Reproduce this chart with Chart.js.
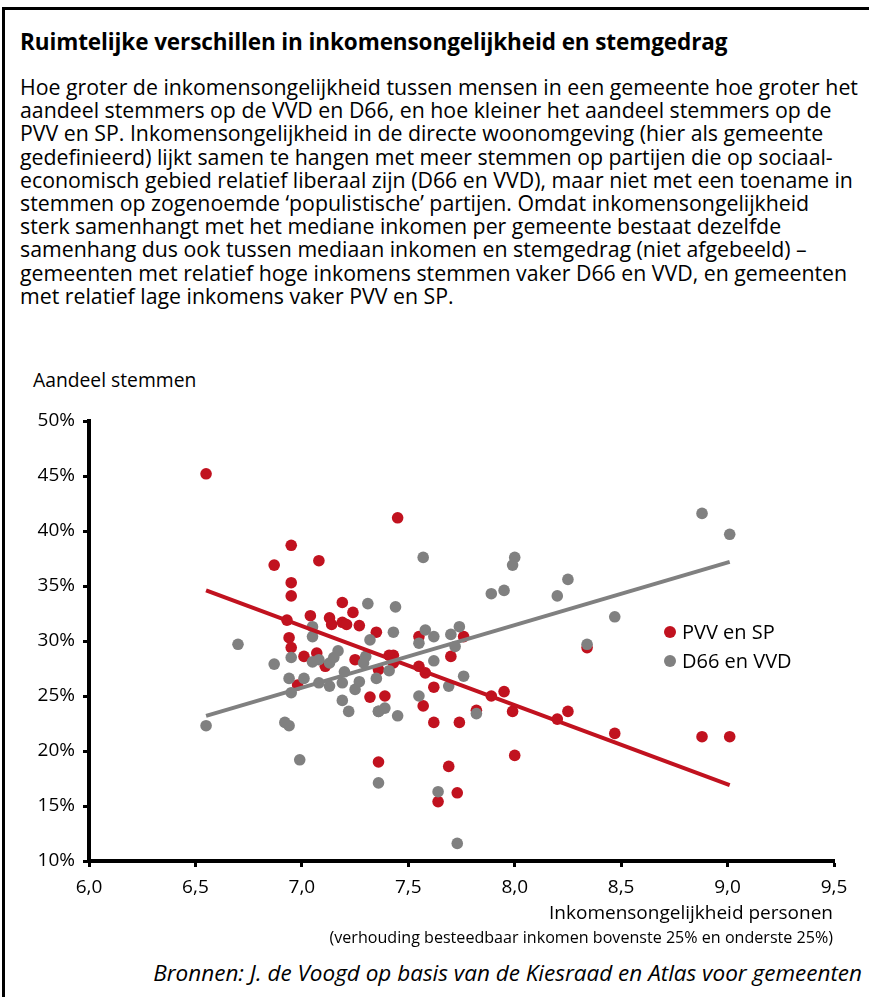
<!DOCTYPE html>
<html>
<head>
<meta charset="utf-8">
<script src="https://cdn.jsdelivr.net/npm/chart.js@4/dist/chart.umd.min.js"></script>
<style>
  body { margin: 0; background: #fff; font-family: "Open Sans", sans-serif; color: #000; }
  #page { position: relative; width: 869px; height: 997px; overflow: hidden; }
  .frame-top { position: absolute; left: 2px; top: 7px; width: 867px; height: 3px; background: #000; }
  .frame-left { position: absolute; left: 2px; top: 7px; width: 3px; height: 990px; background: #000; }
  .t { position: absolute; white-space: nowrap; }
  #title { left: 20px; top: 27px; font-size: 22.5px; line-height: 30px; font-weight: bold; letter-spacing: -0.1px; }
  #intro { left: 20px; top: 75px; font-size: 21.3px; line-height: 23.2px; }
  #ylab { left: 33px; top: 367px; font-size: 19.3px; line-height: 26px; }
  #xlab { right: 36px; top: 899px; font-size: 19px; line-height: 26px; }
  #xsub { right: 36px; top: 926px; font-size: 16.1px; line-height: 22px; }
  #src { right: 7px; top: 958px; font-size: 22.5px; line-height: 30px; font-style: italic; }
  #chartbox { position: absolute; left: 0; top: 400px; width: 869px; height: 510px; }
  .leg { position: absolute; left: 664px; font-size: 20px; line-height: 26px; white-space: nowrap; }
  .leg span { display: inline-block; width: 12px; height: 12px; border-radius: 50%; margin-right: 6px; vertical-align: 1px; }
</style>
</head>
<body>
<div id="page">
  <div class="frame-top"></div>
  <div class="frame-left"></div>
  <div class="t" id="title">Ruimtelijke verschillen in inkomensongelijkheid en stemgedrag</div>
  <div class="t" id="intro">Hoe groter de inkomensongelijkheid tussen mensen in een gemeente hoe groter het<br>aandeel stemmers op de VVD en D66, en hoe kleiner het aandeel stemmers op de<br>PVV en SP. Inkomensongelijkheid in de directe woonomgeving (hier als gemeente<br>gedefinieerd) lijkt samen te hangen met meer stemmen op partijen die op sociaal-<br>economisch gebied relatief liberaal zijn (D66 en VVD), maar niet met een toename in<br>stemmen op zogenoemde ‘populistische’ partijen. Omdat inkomensongelijkheid<br>sterk samenhangt met het mediane inkomen per gemeente bestaat dezelfde<br>samenhang dus ook tussen mediaan inkomen en stemgedrag (niet afgebeeld) –<br>gemeenten met relatief hoge inkomens stemmen vaker D66 en VVD, en gemeenten<br>met relatief lage inkomens vaker PVV en SP.</div>
  <div class="t" id="ylab">Aandeel stemmen</div>
  <div id="chartbox"><canvas id="chart"></canvas></div>
  <div class="leg" style="top:619px"><span style="background:#c1121f"></span>PVV en SP</div>
  <div class="leg" style="top:648px"><span style="background:#808080"></span>D66 en VVD</div>
  <div class="t" id="xlab">Inkomensongelijkheid personen</div>
  <div class="t" id="xsub">(verhouding besteedbaar inkomen bovenste 25% en onderste 25%)</div>
  <div class="t" id="src">Bronnen: J. de Voogd op basis van de Kiesraad en Atlas voor gemeenten</div>
</div>
<script>
// ongelijkheid (x) en aandeel stemmen in % (y)
const pvvX = [6.55, 6.87, 6.95, 7.08, 6.95, 6.95, 6.93, 7.04, 7.19, 7.24, 7.13, 7.14, 7.19, 7.21, 7.27, 7.35,
  6.94, 6.95, 7.07, 7.01, 7.25, 7.11, 6.98, 7.45, 7.55, 7.76, 7.70, 7.43, 7.41, 7.43, 7.36, 7.55, 7.58, 7.62,
  7.32, 7.39, 7.57, 7.62, 7.74, 7.82, 7.89, 7.95, 7.99, 8.20, 8.25, 8.47, 8.88, 9.01, 8.34, 7.36, 7.69, 8.00,
  7.73, 7.64];
const pvvY = [45.2, 36.9, 38.7, 37.3, 35.3, 34.1, 31.9, 32.3, 33.5, 32.6, 32.1, 31.5, 31.7, 31.5, 31.4, 30.8,
  30.3, 29.4, 28.9, 28.6, 28.3, 27.7, 26.0, 41.2, 30.4, 30.4, 28.6, 28.7, 28.7, 28.0, 27.4, 27.7, 27.1, 25.8,
  24.9, 25.0, 24.1, 22.6, 22.6, 23.7, 25.0, 25.4, 23.6, 22.9, 23.6, 21.6, 21.3, 21.3, 29.4, 19.0, 18.6, 19.6,
  16.2, 15.4];

const d66X = [6.55, 6.70, 7.31, 7.05, 7.05, 7.32, 7.17, 6.87, 6.95, 7.05, 7.08, 7.13, 7.15, 7.30, 7.29, 7.35,
  6.94, 6.95, 7.01, 7.08, 7.13, 7.19, 7.20, 7.27, 7.25, 7.19, 7.22, 7.36, 6.92, 6.94, 6.99, 7.36, 7.57, 8.00,
  7.99, 7.89, 7.95, 8.20, 8.25, 7.44, 7.43, 7.58, 7.62, 7.70, 7.74, 7.55, 7.72, 7.62, 7.41, 7.69, 7.76, 7.55,
  7.36, 7.39, 7.45, 7.82, 7.64, 7.73, 8.88, 9.01, 8.47, 8.34];
const d66Y = [22.3, 29.7, 33.4, 31.3, 30.4, 30.1, 29.1, 27.9, 28.5, 28.1, 28.3, 28.0, 28.5, 28.6, 28.0, 26.6,
  26.6, 25.3, 26.6, 26.2, 25.9, 26.2, 27.2, 26.3, 25.6, 24.6, 23.6, 23.6, 22.6, 22.3, 19.2, 17.1, 37.6, 37.6,
  36.9, 34.3, 34.6, 34.1, 35.6, 33.1, 30.8, 31.0, 30.4, 30.6, 31.3, 29.8, 29.5, 28.2, 27.3, 25.9, 26.8, 25.0,
  23.6, 23.9, 23.2, 23.4, 16.3, 11.6, 41.6, 39.7, 32.2, 29.7];

// trendlijnen: begin- en eindpunt
const pvvTrendX = [6.55, 9.01];
const pvvTrendY = [34.6, 16.9];
const d66TrendX = [6.55, 9.01];
const d66TrendY = [23.2, 37.2];

const RED = '#c1121f';
const GREY = '#808080';

const pts = (xs, ys) => xs.map((x, i) => ({ x: x, y: ys[i] }));

const tickFont = { family: 'Open Sans', size: 19 };

// komma als decimaalteken
function fmtX(v) {
  return Number(v).toFixed(1).replace('.', ',');
}

new Chart(document.getElementById('chart'), {
  type: 'scatter',
  data: {
    datasets: [
      { label: 'D66 trend', type: 'line', data: pts(d66TrendX, d66TrendY), borderColor: GREY, borderWidth: 4,
        pointRadius: 0, fill: false, order: 0 },
      { label: 'PVV trend', type: 'line', data: pts(pvvTrendX, pvvTrendY), borderColor: RED, borderWidth: 4,
        pointRadius: 0, fill: false, order: 1 },
      { label: 'D66 en VVD', data: pts(d66X, d66Y), backgroundColor: GREY, borderWidth: 0, pointRadius: 5.8, order: 2 },
      { label: 'PVV en SP', data: pts(pvvX, pvvY), backgroundColor: RED, borderWidth: 0, pointRadius: 5.8, order: 3 }
    ]
  },
  options: {
    locale: 'nl-NL',
    responsive: true,
    maintainAspectRatio: false,
    animation: false,
    layout: { padding: { left: 0, top: 21, right: 35, bottom: 9 } },
    plugins: { legend: { display: false }, tooltip: { enabled: false } },
    scales: {
      x: {
        type: 'linear', min: 6, max: 9.5,
        afterFit: s => { s.height = 40; },
        ticks: { stepSize: 0.5, autoSkip: false, color: '#000', font: tickFont, padding: 9, maxRotation: 0,
          callback: fmtX },
        grid: { drawOnChartArea: false, drawTicks: true, tickLength: 6, tickWidth: 3, color: '#000' },
        border: { display: true, color: '#000', width: 4 }
      },
      y: {
        type: 'linear', min: 10, max: 50,
        afterFit: s => { s.width = 89; },
        ticks: { stepSize: 5, color: '#000', font: tickFont, padding: 8, callback: v => v + '%' },
        grid: { drawOnChartArea: false, drawTicks: true, tickLength: 6, tickWidth: 3, color: '#000' },
        border: { display: true, color: '#000', width: 4 }
      }
    }
  }
});
</script>
</body>
</html>
